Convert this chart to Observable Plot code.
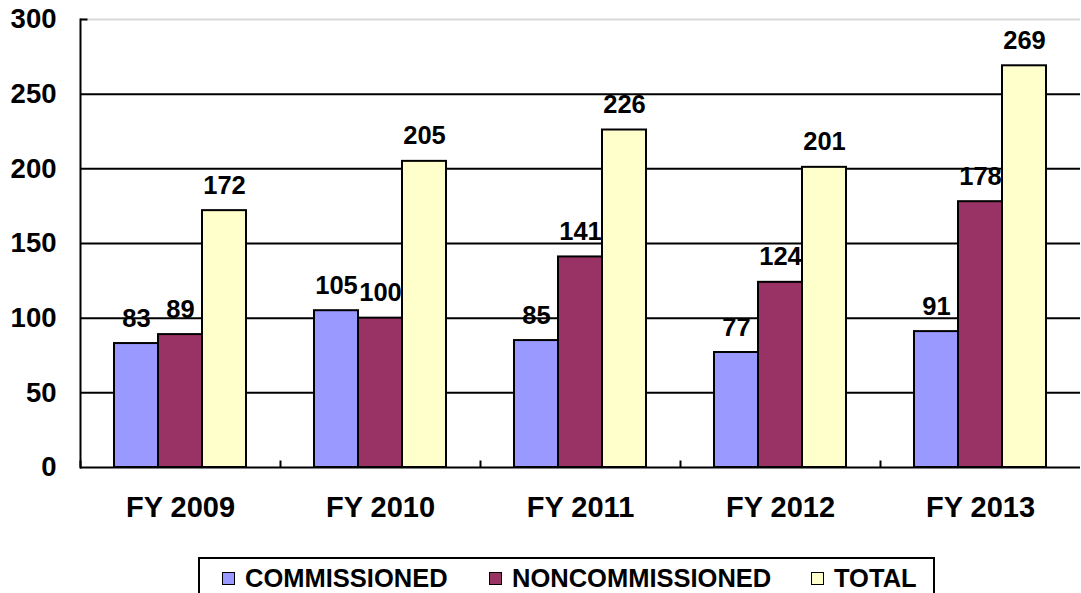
<!DOCTYPE html>
<html>
<head>
<meta charset="utf-8">
<script src="https://cdn.jsdelivr.net/npm/d3@7"></script>
<script src="https://cdn.jsdelivr.net/npm/@observablehq/plot@0.6"></script>
<style>
  html, body { margin: 0; padding: 0; background: #fff; }
  #wrap { position: relative; width: 1081px; height: 593px; overflow: hidden; font-family: "Liberation Sans", Arial, sans-serif; }
  #legend { position: absolute; left: 198px; top: 557px; width: 737px; height: 40px; border: 2px solid #000; box-sizing: border-box; background: #fff; }
  .item { position: absolute; top: 5px; display: flex; align-items: center; font-weight: bold; font-size: 25.5px; color: #000; line-height: 28px; }
  .sw { width: 11px; height: 11px; border: 1.5px solid #000; margin-right: 10px; }
</style>
</head>
<body>
<div id="wrap">
  <div id="chart"></div>
  <div id="legend"></div>
</div>
<script>
const years = ["FY 2009", "FY 2010", "FY 2011", "FY 2012", "FY 2013"];
const series = ["COMMISSIONED", "NONCOMMISSIONED", "TOTAL"];
const commissioned = [83, 105, 85, 77, 91];
const noncommissioned = [89, 100, 141, 124, 178];
const total = [172, 205, 226, 201, 269];
const colors = ["#9999FF", "#993366", "#FFFFCC"];
const yTicks = [0, 50, 100, 150, 200, 250, 300];

const seriesValues = [commissioned, noncommissioned, total];
const data = [];
years.forEach((yr, i) => {
  series.forEach((s, j) => data.push({year: yr, series: s, value: seriesValues[j][i]}));
});

const vtick = {draw(ctx) { ctx.moveTo(0, 0); ctx.lineTo(0, -7); }};
const htick = {draw(ctx) { ctx.moveTo(0, 0); ctx.lineTo(7, 0); }};

const chart = Plot.plot({
  width: 1081,
  height: 555,
  marginLeft: 79,
  marginRight: 0,
  marginTop: 19,
  marginBottom: 88,
  style: {fontFamily: "'Liberation Sans', Arial, sans-serif", fontWeight: "bold", color: "#000", background: "#fff", overflow: "visible"},
  fx: {domain: years, paddingInner: 0, paddingOuter: 0, label: null, axis: null},
  x: {domain: series, paddingInner: 0, paddingOuter: 0.73, axis: null},
  y: {domain: [0, 300], axis: null},
  color: {domain: series, range: colors},
  marks: [
    Plot.ruleY(yTicks.filter(t => t > 0 && t < 300), {stroke: "#000", strokeWidth: 2}),
    Plot.ruleY([300], {stroke: "#d9d9d9", strokeWidth: 2}),
    Plot.barY(data, {fx: "year", x: "series", y: "value", fill: "series", stroke: "#000", strokeWidth: 2}),
    Plot.text(data, {fx: "year", x: "series", y: "value", text: d => String(d.value), lineAnchor: "bottom", dy: -17, fontSize: 25.5, fontWeight: "bold", fill: "#000"}),
    Plot.ruleY([0], {stroke: "#000", strokeWidth: 2}),
    Plot.dot([null], {frameAnchor: "bottom-left", symbol: vtick, stroke: "#000", strokeWidth: 2}),
    Plot.frame({anchor: "left", facetAnchor: "left", stroke: "#000", strokeWidth: 2}),
    Plot.dot([null], {frameAnchor: "top-left", symbol: htick, stroke: "#000", strokeWidth: 2, facetAnchor: "left"}),
    Plot.axisY({ticks: yTicks, tickSize: 0, tickPadding: 24, fontSize: 27.5, fontWeight: "bold", label: null, facetAnchor: "left"}),
    Plot.axisFx({anchor: "bottom", tickSize: 0, tickPadding: 29, fontSize: 29, fontWeight: "bold", label: null})
  ]
});
document.getElementById("chart").appendChild(chart);

const legendPos = [{sw: 22}, {sw: 289}, {sw: 611}];
const legend = document.getElementById("legend");
series.forEach((s, j) => {
  const it = document.createElement("div");
  it.className = "item";
  it.style.left = legendPos[j].sw + "px";
  const sw = document.createElement("div");
  sw.className = "sw";
  sw.style.background = colors[j];
  const tx = document.createElement("span");
  tx.textContent = s;
  it.appendChild(sw);
  it.appendChild(tx);
  legend.appendChild(it);
});
</script>
</body>
</html>
